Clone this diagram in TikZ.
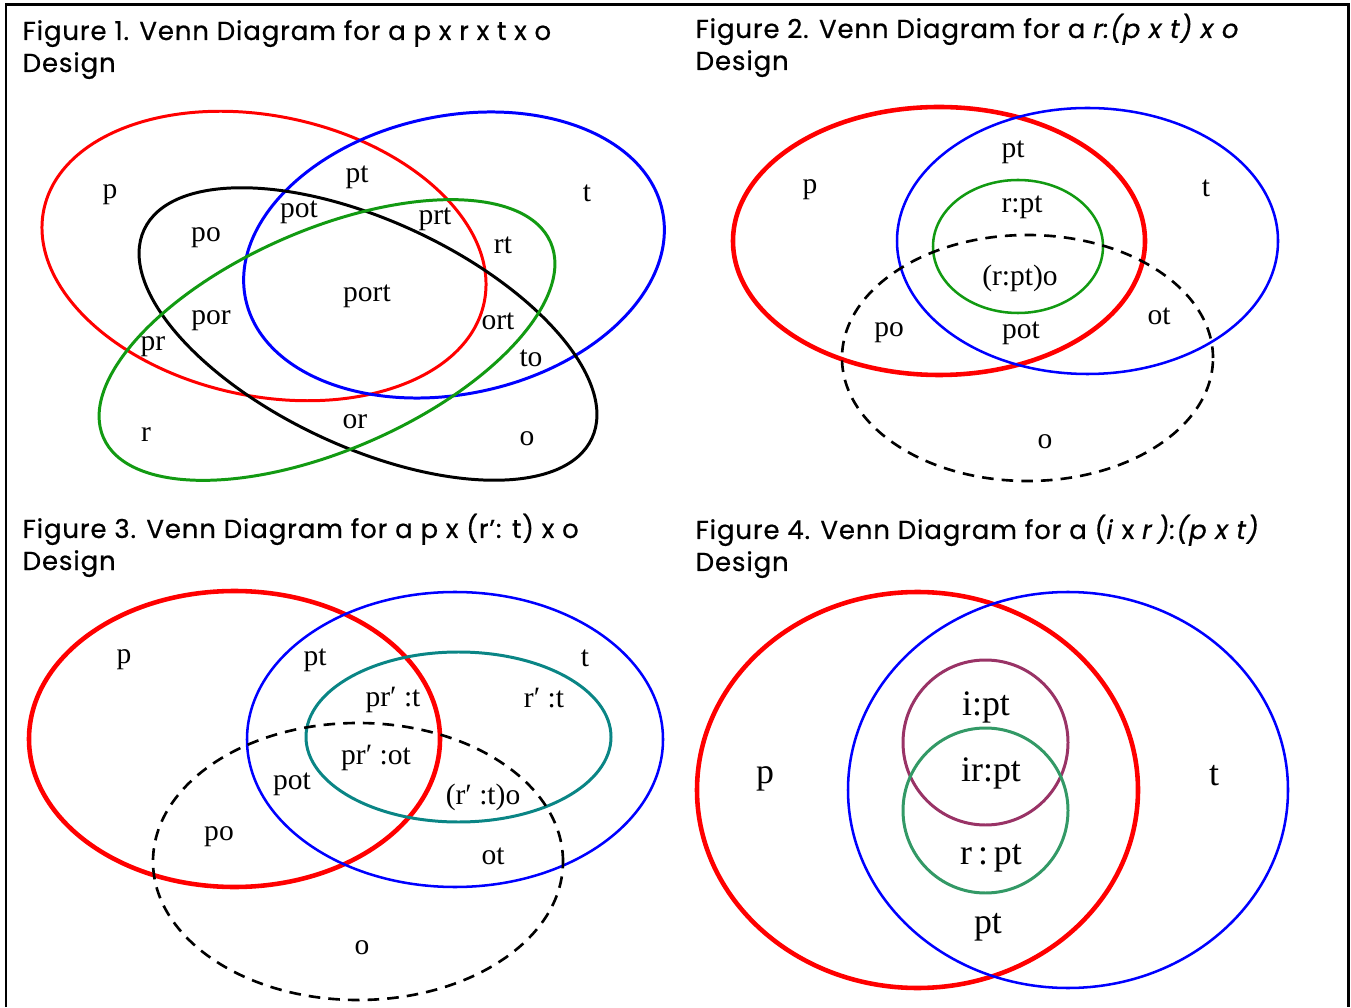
\documentclass[tikz,border=0pt]{standalone}
\usepackage{fontspec}
\usepackage{xcolor}
\usepackage{tikz}
\setmainfont{Poppins}[FakeBold=0.6,LetterSpace=3.3]
\newfontfamily\vennfont{Liberation Serif}
\definecolor{vennred}{HTML}{FF0000}
\definecolor{vennblue}{HTML}{0000FF}
\definecolor{venngreen}{HTML}{129A12}
\definecolor{vennteal}{HTML}{0A8585}
\definecolor{vennplum}{HTML}{993366}
\definecolor{vennsea}{HTML}{339966}

\begin{document}
\begin{tikzpicture}[scale=1,every node/.style={inner sep=0pt},
  lbl/.style={font=\vennfont\fontsize{8.4}{10}\selectfont},
  biglbl/.style={font=\vennfont\fontsize{10.2}{12}\selectfont},
  figtitle/.style={anchor=base west,font=\fontsize{7.4}{9}\selectfont},
  ring/.style={line width=0.85pt},
  heavyring/.style={line width=1.3pt},
  slimring/.style={line width=0.72pt},
  openset/.style={line width=0.75pt,dash pattern={on 3.3pt off 2.3pt}}]
  \useasboundingbox (0,0) rectangle (13.51,10.07);
  \draw[line width=0.85pt] (0.06,0) -- (0.06,10.02) -- (13.48,10.02) -- (13.48,0);

  % Figure 1
  \node[figtitle] (ttl1) at (0.22,9.67) {Figure 1. Venn Diagram for a p x r x t x o};
  \node[figtitle] (ttl1b) at (0.22,9.35) {Design};
  \draw[ring, vennred, rotate around={-12:(2.64,7.51)}] (2.64,7.51) ellipse [x radius=2.25, y radius=1.40];
  \draw[ring, vennblue, rotate around={12:(4.54,7.52)}] (4.54,7.52) ellipse [x radius=2.13, y radius=1.39];
  \draw[ring, black, rotate around={-25:(3.68,6.73)}] (3.68,6.73) ellipse [x radius=2.47, y radius=1.13];
  \draw[ring, venngreen, rotate around={23.6:(3.27,6.67)}] (3.27,6.67) ellipse [x radius=2.44, y radius=1.10];
  \node[lbl] (f1p) at (1.10,8.12) {p};
  \node[lbl] (f1t) at (5.87,8.14) {t};
  \node[lbl] (f1pt) at (3.57,8.30) {pt};
  \node[lbl] (f1pot) at (2.99,7.95) {pot};
  \node[lbl] (f1prt) at (4.35,7.88) {prt};
  \node[lbl] (f1rt) at (5.03,7.62) {rt};
  \node[lbl] (f1po) at (2.06,7.69) {po};
  \node[lbl] (f1port) at (3.67,7.11) {port};
  \node[lbl] (f1por) at (2.11,6.86) {por};
  \node[lbl] (f1ort) at (4.98,6.86) {ort};
  \node[lbl] (f1pr) at (1.53,6.60) {pr};
  \node[lbl] (f1to) at (5.31,6.49) {to};
  \node[lbl] (f1or) at (3.55,5.85) {or};
  \node[lbl] (f1r) at (1.46,5.72) {r};
  \node[lbl] (f1o) at (5.27,5.68) {o};

  % Figure 2
  \node[figtitle] (ttl2) at (6.95,9.69) {Figure 2. Venn Diagram for a \textit{r:(p x t) x o}};
  \node[figtitle] (ttl2b) at (6.95,9.37) {Design};
  \draw[heavyring, vennred] (9.39,7.66) ellipse [x radius=2.06, y radius=1.34];
  \draw[slimring, vennblue] (10.875,7.66) ellipse [x radius=1.905, y radius=1.33];
  \draw[slimring, venngreen] (10.18,7.605) ellipse [x radius=0.85, y radius=0.665];
  \draw[openset] (10.275,6.49) ellipse [x radius=1.855, y radius=1.23];
  \node[lbl] (f2p) at (8.10,8.17) {p};
  \node[lbl] (f2pt) at (10.13,8.55) {pt};
  \node[lbl] (f2t) at (12.06,8.19) {t};
  \node[lbl] (f2rpt) at (10.22,8.00) {r:pt};
  \node[lbl] (f2rpto) at (10.20,7.29) {(r:pt)o};
  \node[lbl] (f2po) at (8.89,6.74) {po};
  \node[lbl] (f2pot) at (10.21,6.74) {pot};
  \node[lbl] (f2ot) at (11.59,6.91) {ot};
  \node[lbl] (f2o) at (10.45,5.65) {o};

  % Figure 3
  \node[figtitle] (ttl3) at (0.22,4.69) {Figure 3. Venn Diagram for a p x (r’: t) x o};
  \node[figtitle] (ttl3b) at (0.22,4.37) {Design};
  \draw[heavyring, vennred] (2.345,2.68) ellipse [x radius=2.055, y radius=1.48];
  \draw[slimring, vennblue] (4.55,2.675) ellipse [x radius=2.08, y radius=1.475];
  \draw[ring, vennteal] (4.585,2.70) ellipse [x radius=1.525, y radius=0.85];
  \draw[openset] (3.58,1.455) ellipse [x radius=2.05, y radius=1.385];
  \node[lbl] (f3p) at (1.24,3.47) {p};
  \node[lbl] (f3pt) at (3.15,3.47) {pt};
  \node[lbl] (f3t) at (5.85,3.49) {t};
  \node[lbl] (f3prt) at (3.93,3.07) {pr′ :t};
  \node[lbl] (f3rt) at (5.44,3.09) {r′ :t};
  \node[lbl] (f3prot) at (3.76,2.49) {pr′ :ot};
  \node[lbl] (f3pot) at (2.92,2.23) {pot};
  \node[lbl] (f3rto) at (4.83,2.10) {(r′ :t)o};
  \node[lbl] (f3po) at (2.19,1.70) {po};
  \node[lbl] (f3ot) at (4.93,1.51) {ot};
  \node[lbl] (f3o) at (3.62,0.59) {o};

  % Figure 4
  \node[figtitle] (ttl4) at (6.95,4.68) {Figure 4. Venn Diagram for a (\textit{i} x \textit{r}\,\textit{):(p x t)}};
  \node[figtitle] (ttl4b) at (6.95,4.36) {Design};
  \draw[heavyring, vennred] (9.175,2.17) ellipse [x radius=2.205, y radius=1.98];
  \draw[slimring, vennblue] (10.68,2.17) ellipse [x radius=2.20, y radius=1.98];
  \draw[ring, vennplum] (9.855,2.645) circle [radius=0.825];
  \draw[ring, vennsea] (9.855,1.965) circle [radius=0.825];
  \node[biglbl] (f4p) at (7.65,2.28) {p};
  \node[biglbl] (f4t) at (12.14,2.31) {t};
  \node[biglbl] (f4ipt) at (9.86,3.00) {i:pt};
  \node[biglbl] (f4irpt) at (9.91,2.34) {ir:pt};
  \node[biglbl] (f4rpt) at (9.91,1.49) {r\,:\,pt};
  \node[biglbl] (f4pt) at (9.88,0.80) {pt};
\end{tikzpicture}
\end{document}
